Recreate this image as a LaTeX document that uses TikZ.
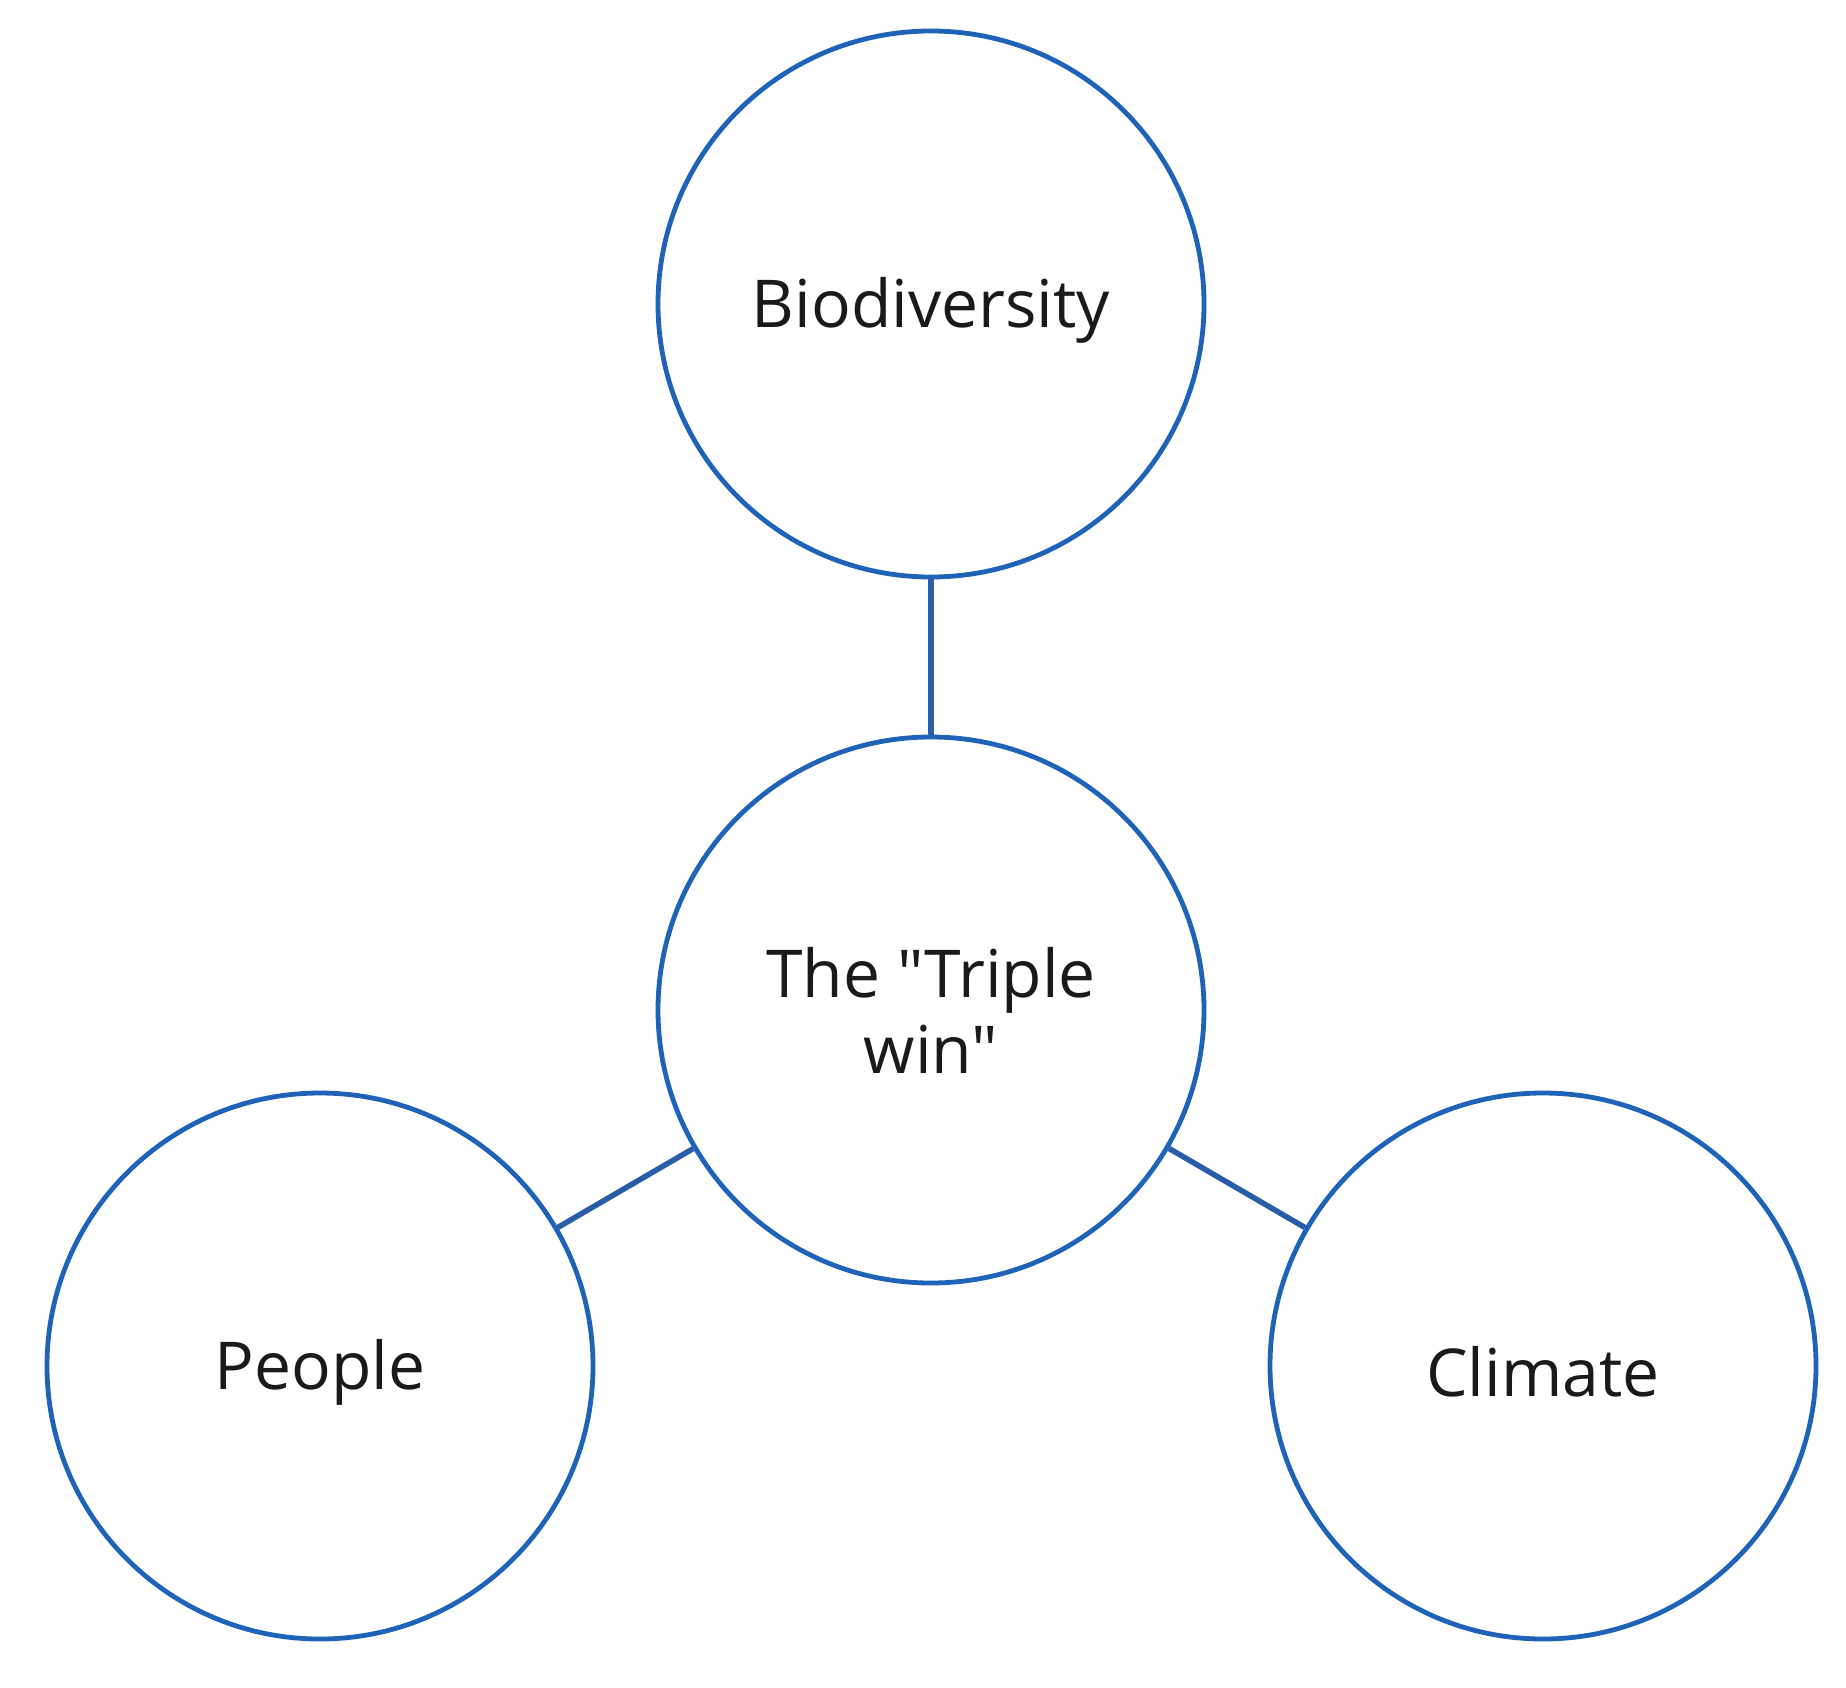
\documentclass[tikz,border=0pt]{standalone}
\usepackage{fontspec}
\setmainfont{Open Sans}[Ligatures=TeXOff]
\definecolor{ringblue}{HTML}{1F63B8}
\definecolor{linkblue}{HTML}{2A5DA8}
\definecolor{txt}{HTML}{1A1A1A}
\newcommand{\lowertext}[1]{\raisebox{-6pt}[\height][\depth]{#1}}
\begin{document}
\begin{tikzpicture}[x=1pt,y=-1pt,
  ring/.style={circle,draw=ringblue,line width=4.8pt,minimum size=546pt,inner sep=0pt,
    text=txt,font=\fontsize{66}{76}\selectfont,align=center},
  link/.style={draw=linkblue,line width=5.5pt}]
\useasboundingbox[fill=white] (0,0) rectangle (1846,1688);
\node[ring] (bio) at (931,304) {\lowertext{Biodiversity}};
\node[ring] (mid) at (931,1010) {The "Triple\\win"};
\node[ring] (peo) at (320,1366) {\lowertext{People}};
\node[ring] (cli) at (1543,1366) {\lowertext{Climate}};
\draw[link] (bio) -- (mid);
\draw[link] (mid) -- (peo);
\draw[link] (mid) -- (cli);
\end{tikzpicture}
\end{document}
